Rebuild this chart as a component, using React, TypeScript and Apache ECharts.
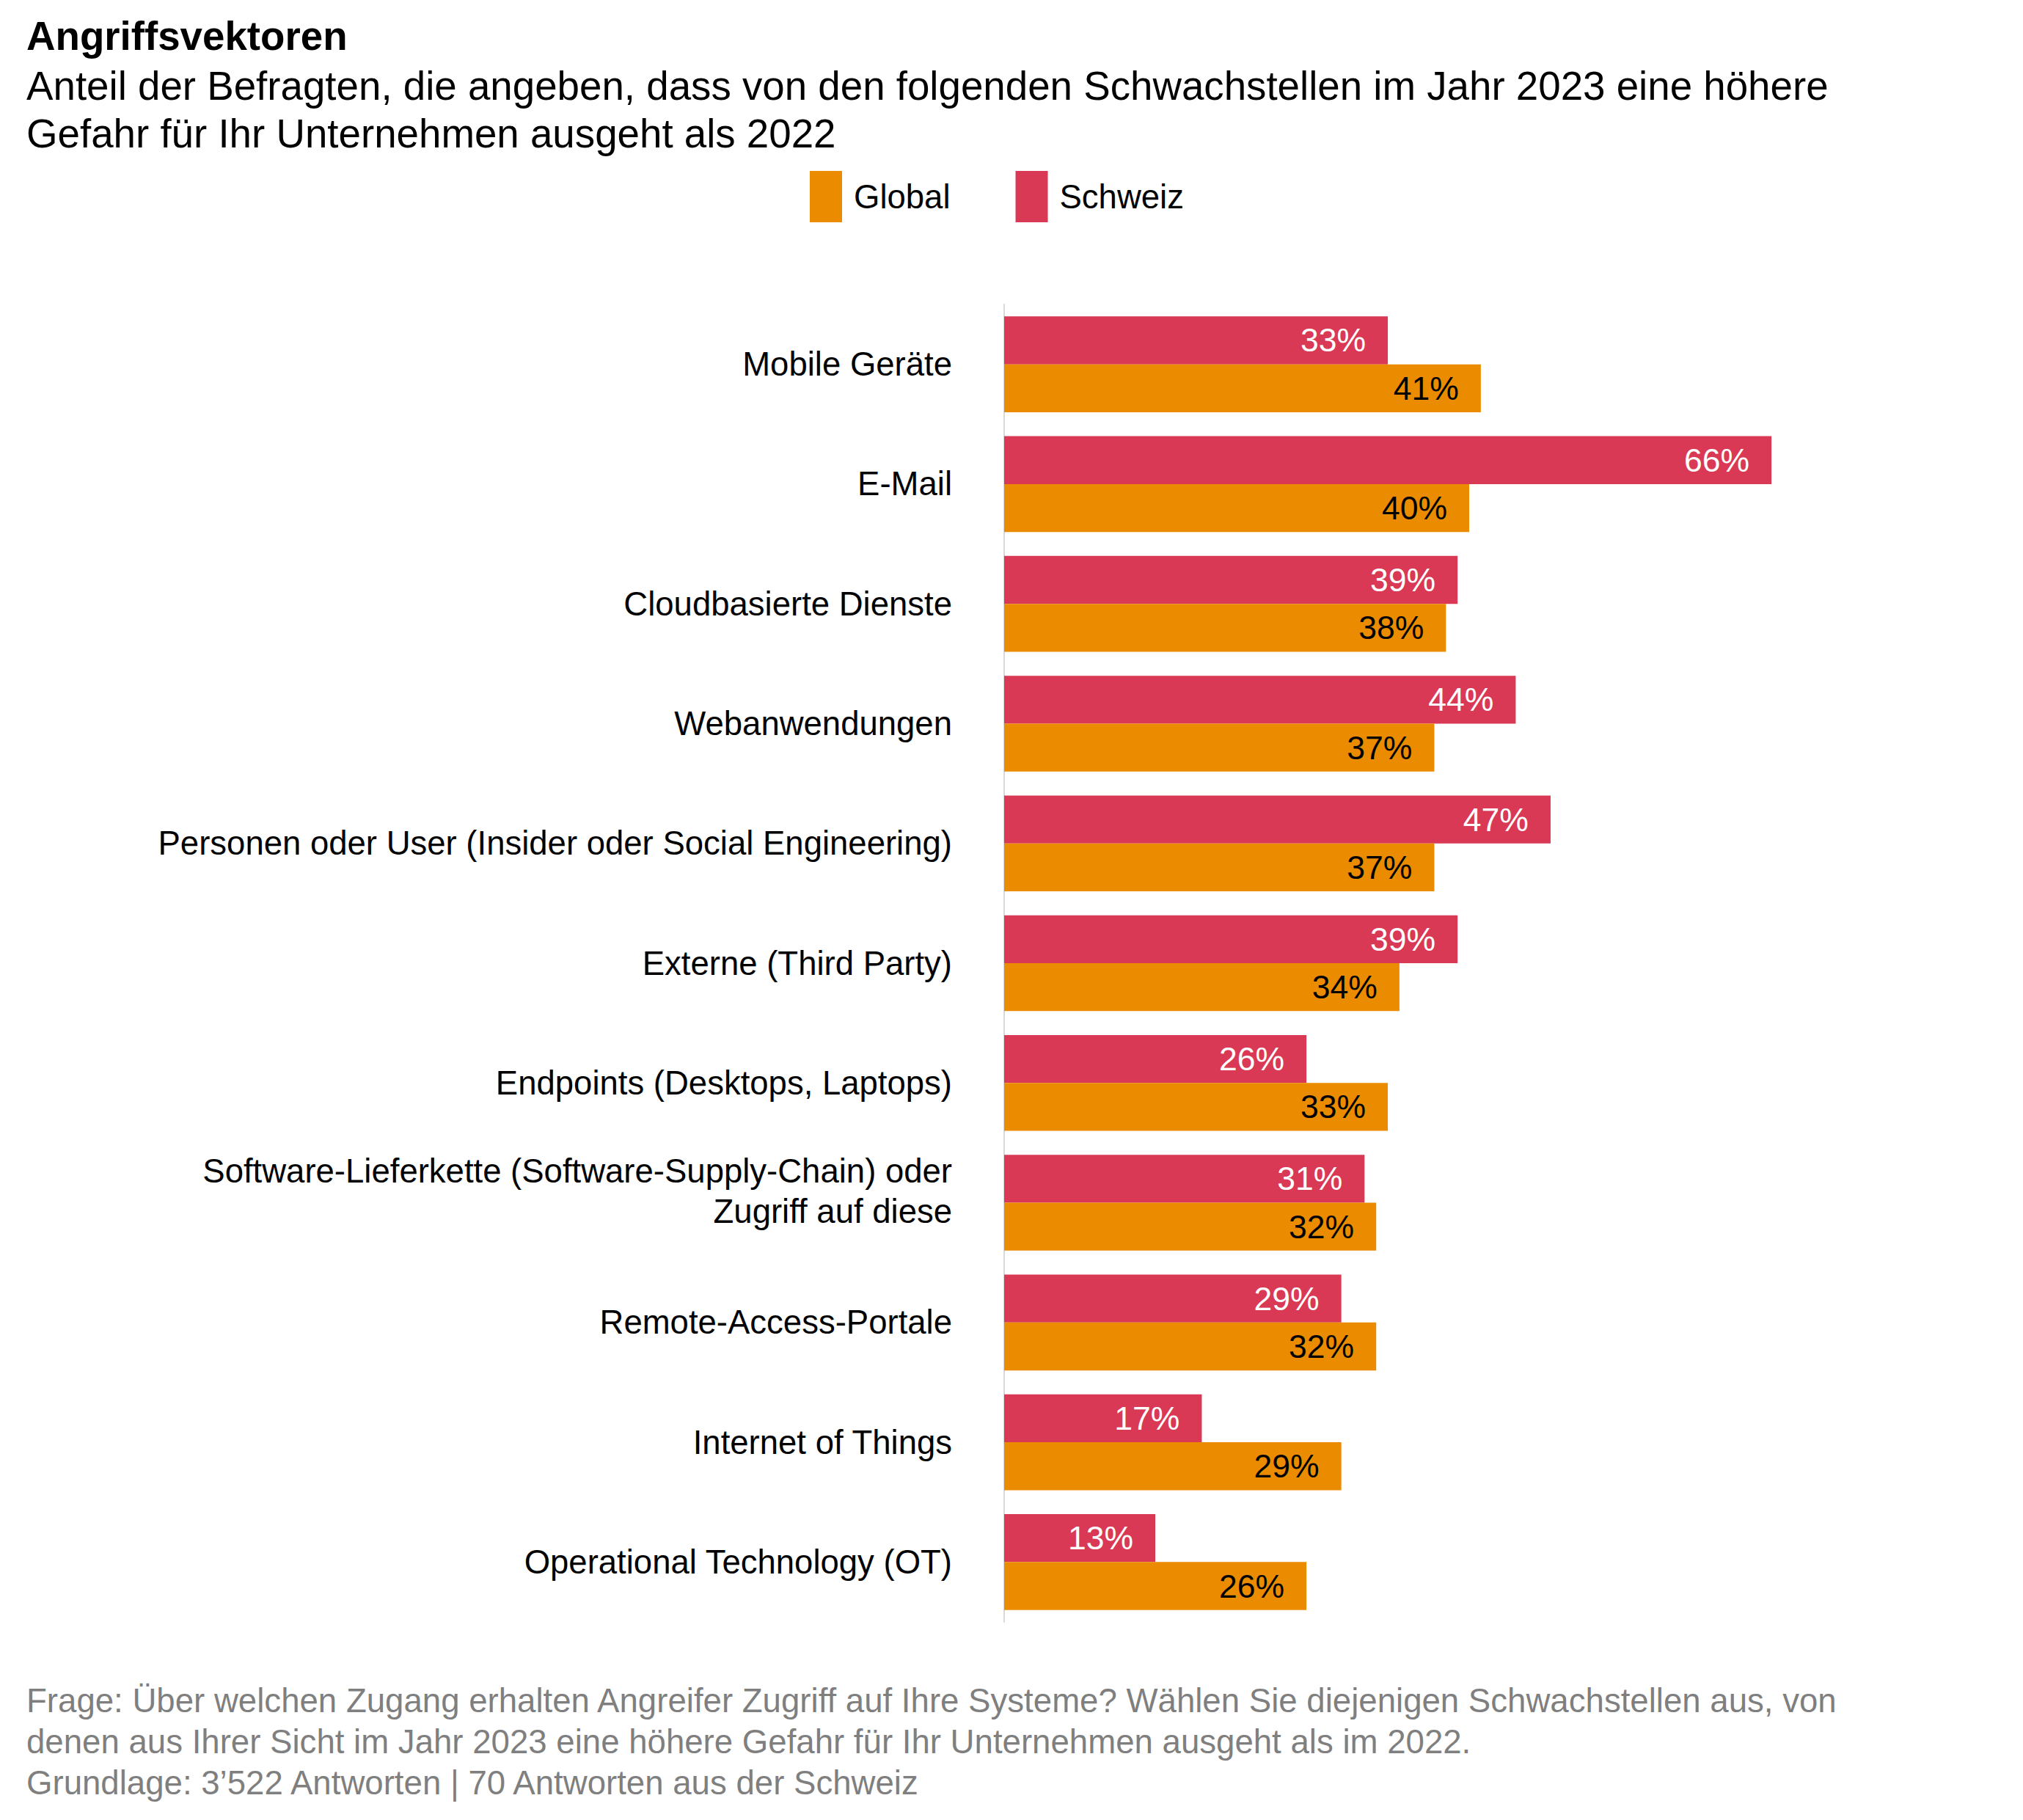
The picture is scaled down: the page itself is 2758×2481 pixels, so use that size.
import React, { useEffect, useRef } from "react";
import * as echarts from "echarts";

const categories = [
  "Mobile Geräte",
  "E-Mail",
  "Cloudbasierte Dienste",
  "Webanwendungen",
  "Personen oder User (Insider oder Social Engineering)",
  "Externe (Third Party)",
  "Endpoints (Desktops, Laptops)",
  "Software-Lieferkette (Software-Supply-Chain) oder\nZugriff auf diese",
  "Remote-Access-Portale",
  "Internet of Things",
  "Operational Technology (OT)",
];
const schweizValues = [33, 66, 39, 44, 47, 39, 26, 31, 29, 17, 13];
const globalValues = [41, 40, 38, 37, 37, 34, 33, 32, 32, 29, 26];

const titleText = "Angriffsvektoren";
const subtitleLines = [
  "Anteil der Befragten, die angeben, dass von den folgenden Schwachstellen im Jahr 2023 eine höhere",
  "Gefahr für Ihr Unternehmen ausgeht als 2022",
];
const footerLines = [
  "Frage: Über welchen Zugang erhalten Angreifer Zugriff auf Ihre Systeme? Wählen Sie diejenigen Schwachstellen aus, von",
  "denen aus Ihrer Sicht im Jahr 2023 eine höhere Gefahr für Ihr Unternehmen ausgeht als im 2022.",
  "Grundlage: 3’522 Antworten | 70 Antworten aus der Schweiz",
];

const FONT = "'Liberation Sans', Arial, Helvetica, sans-serif";
const ORANGE = "#EB8C00";
const ROSE = "#D93954";

export default function App() {
  const ref = useRef<HTMLDivElement>(null);
  useEffect(() => {
    if (!ref.current) return;
    const chart = echarts.init(ref.current, null, { renderer: "svg" });
    const graphics: any[] = [
      {
        type: "text",
        x: 36,
        y: 49,
        style: {
          text: titleText,
          fontSize: 54.7,
          fontWeight: "bold",
          fontFamily: FONT,
          fill: "#000",
          verticalAlign: "middle",
        },
      },
    ];
    subtitleLines.forEach((t, i) => {
      graphics.push({
        type: "text",
        x: 36,
        y: 117 + i * 65,
        style: {
          text: t,
          fontSize: 54.7,
          fontFamily: FONT,
          fill: "#000",
          verticalAlign: "middle",
        },
      });
    });
    footerLines.forEach((t, i) => {
      graphics.push({
        type: "text",
        x: 36,
        y: 2318 + i * 56,
        style: {
          text: t,
          fontSize: 45.6,
          fontFamily: FONT,
          fill: "#7f7f7f",
          verticalAlign: "middle",
        },
      });
    });

    chart.setOption({
      animation: false,
      backgroundColor: "#fff",
      textStyle: { fontFamily: FONT },
      graphic: graphics,
      legend: {
        data: ["Global", "Schweiz"],
        left: 1104,
        top: 233,
        padding: 0,
        icon: "rect",
        itemWidth: 44,
        itemHeight: 70,
        itemGap: 89,
        textStyle: {
          fontSize: 45.5,
          fontFamily: FONT,
          color: "#000",
          padding: [0, 0, 14, 11],
        },
      },
      grid: { left: 1369, top: 415, bottom: 270, width: 1268, containLabel: false },
      xAxis: {
        type: "value",
        min: 0,
        max: 80,
        show: false,
      },
      yAxis: {
        type: "category",
        inverse: true,
        data: categories,
        axisLine: { show: true, lineStyle: { color: "#d9d9d9", width: 2 } },
        axisTick: { show: false },
        splitLine: { show: false },
        axisLabel: {
          fontSize: 45.5,
          fontFamily: FONT,
          color: "#000",
          margin: 71,
          lineHeight: 55,
          align: "right",
          formatter: (v: string) =>
            v.includes("\n")
              ? v
                  .split("\n")
                  .map((l) => `{a|${l}}`)
                  .join("\n") + "\n{g| }"
              : v,
          rich: {
            a: { fontSize: 45.5, fontFamily: FONT, color: "#000", lineHeight: 55, align: "right" },
            g: { fontSize: 10, lineHeight: 32, align: "right" },
          },
        },
      },
      series: [
        {
          name: "Schweiz",
          type: "bar",
          data: schweizValues,
          barGap: "0%",
          barCategoryGap: "20%",
          itemStyle: { color: ROSE },
          label: {
            show: true,
            position: "insideRight",
            distance: 30,
            formatter: "{c}%",
            fontSize: 44.5,
            fontFamily: FONT,
            color: "#fff",
          },
        },
        {
          name: "Global",
          type: "bar",
          data: globalValues,
          barGap: "0%",
          barCategoryGap: "20%",
          itemStyle: { color: ORANGE },
          label: {
            show: true,
            position: "insideRight",
            distance: 30,
            formatter: "{c}%",
            fontSize: 44.5,
            fontFamily: FONT,
            color: "#000",
          },
        },
      ],
    });
    return () => chart.dispose();
  }, []);
  return (
    <div
      ref={ref}
      style={{ position: "absolute", left: 0, top: 0, width: 2758, height: 2481 }}
    />
  );
}
